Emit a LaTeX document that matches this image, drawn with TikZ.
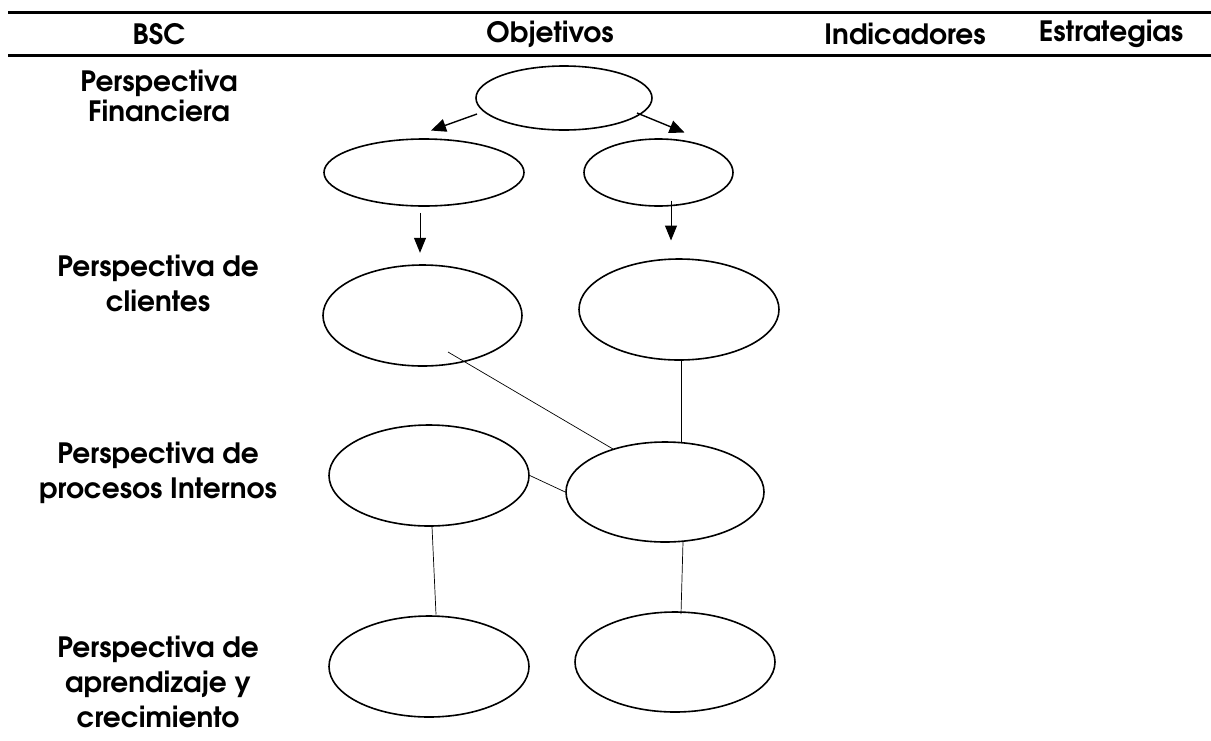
\documentclass[tikz,border=0pt]{standalone}
\usepackage{fontspec}
\newfontfamily\gothic{texgyreadventor-bold.otf}
\usetikzlibrary{shapes.geometric,arrows.meta,calc}
\begin{document}
\begin{tikzpicture}[x=1pt,y=-1pt,
  oval/.style={draw,ellipse,line width=1.6pt,inner sep=0pt},
  lbl/.style={font=\gothic\fontsize{28}{35}\selectfont,align=center,inner sep=0pt},
  hdr/.style={font=\gothic\fontsize{28}{34}\selectfont,inner sep=0pt},
  rule/.style={line width=2.4pt},
  conn/.style={line width=0.7pt},
  arr/.style={line width=1.4pt,-{Triangle[length=15pt,width=13pt]}},
  varr/.style={line width=1pt,-{Triangle[length=15pt,width=12pt]}}]
\useasboundingbox (0,0) rectangle (1211,740);
% rules
\coordinate (r1a) at (8,12.5); \coordinate (r1b) at (1211,12.5);
\coordinate (r2a) at (8,55.5); \coordinate (r2b) at (1211,55.5);
\draw[rule] (r1a) -- (r1b);
\draw[rule] (r2a) -- (r2b);
% header
\node[hdr] (hbsc) at (159,34) {BSC};
\node[hdr] (hobj) at (550,34) {Objetivos};
\node[hdr] (hind) at (905,34) {Indicadores};
\node[hdr] (hest) at (1111,34) {Estrategias};
% left labels
\node[lbl,font=\gothic\fontsize{28}{30}\selectfont] (lfin) at (159,96) {Perspectiva\\Financiera};
\node[lbl] (lcli) at (158,283) {Perspectiva de\\clientes};
\node[lbl] (lpro) at (158,473) {Perspectiva de\\procesos Internos};
\node[lbl] (lapr) at (158,682) {Perspectiva de\\aprendizaje y\\crecimiento};
% ellipses
\node[oval,minimum width=176pt,minimum height=64pt] (e1) at (564,98) {};
\node[oval,minimum width=200pt,minimum height=67pt] (e2) at (424,172.5) {};
\node[oval,minimum width=149pt,minimum height=67pt] (e3) at (658.5,172.5) {};
\node[oval,minimum width=199pt,minimum height=101pt] (e4) at (422.5,315.5) {};
\node[oval,minimum width=200pt,minimum height=101pt] (e5) at (679,309.5) {};
\node[oval,minimum width=200pt,minimum height=101pt] (e6) at (429,475.5) {};
\node[oval,minimum width=198pt,minimum height=100pt] (e7) at (665,492) {};
\node[oval,minimum width=200pt,minimum height=101pt] (e8) at (429,666.5) {};
\node[oval,minimum width=200pt,minimum height=100pt] (e9) at (675,662) {};
% arrows
\coordinate (a1s) at ($(e1.center)+(-87,16)$);
\coordinate (a1e) at ($(e2.center)+(7,-42)$);
\coordinate (a2s) at ($(e1.center)+(73,15)$);
\coordinate (a2e) at ($(e3.center)+(26,-40)$);
\draw[arr] (a1s) -- (a1e);
\draw[arr] (a2s) -- (a2e);
\coordinate (a3s) at ($(e2.south)+(-4,6)$);
\coordinate (a3e) at ($(e2.south)+(-4,46)$);
\coordinate (a4s) at ($(e3.center)+(12.5,28)$);
\coordinate (a4e) at ($(e3.center)+(12.5,68)$);
\draw[varr] (a3s) -- (a3e);
\draw[varr] (a4s) -- (a4e);
% connectors
\draw[conn] ($(e4.center)+(25.5,36.5)$) -- ($(e7.center)+(-52,-43)$);
\draw[conn] ($(e5.center)+(2,50.5)$) -- ($(e7.center)+(16,-49)$);
\draw[conn] (e6.east) -- (e7.west);
\draw[conn] ($(e6.center)+(3,51)$) -- ($(e8.center)+(7,-52)$);
\draw[conn] ($(e7.center)+(18,50)$) -- ($(e9.center)+(6,-48)$);
\end{tikzpicture}
\end{document}
